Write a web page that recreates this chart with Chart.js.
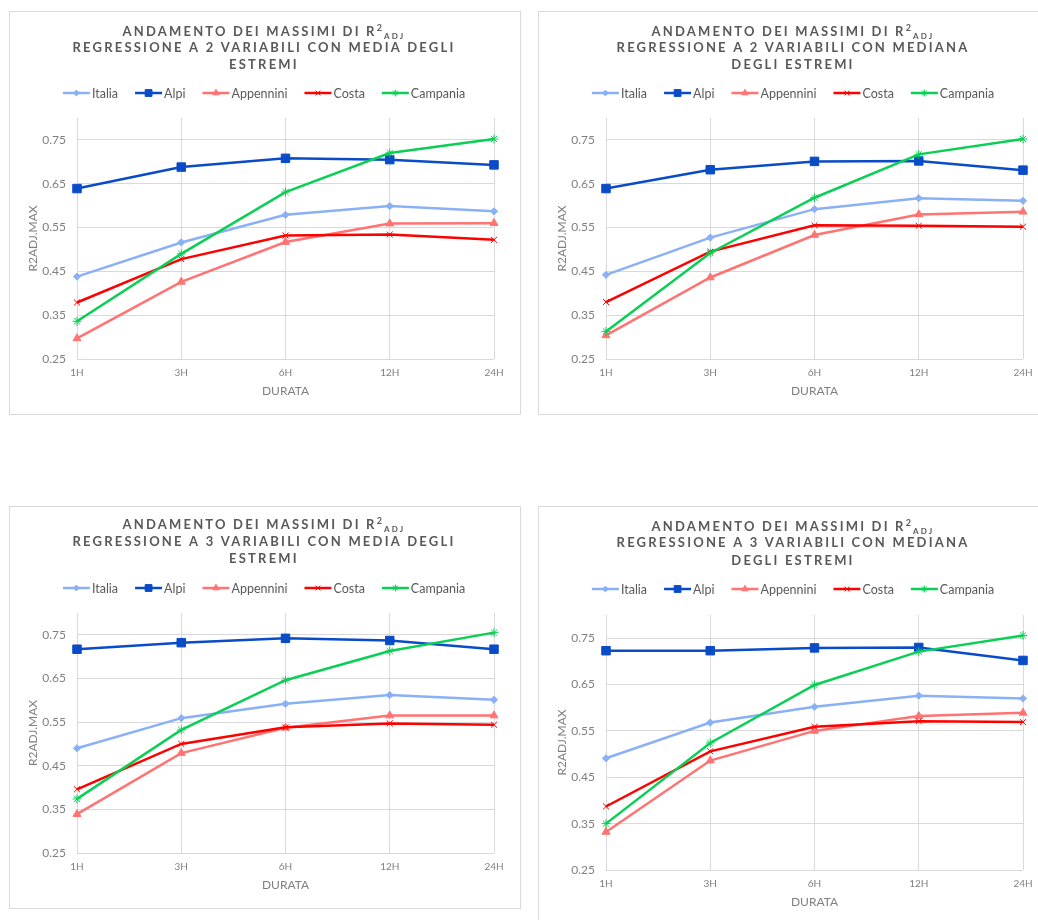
<!DOCTYPE html>
<html>
<head>
<meta charset="utf-8">
<script src="https://cdn.jsdelivr.net/npm/chart.js@4/dist/chart.umd.min.js"></script>
<style>
  html, body { margin: 0; padding: 0; background: #fff; width: 1038px; height: 920px; overflow: hidden; }
  .panel { position: absolute; border: 1px solid #d9d9d9; background: #fff; overflow: hidden; }
  .panel.destra { border-right: none; }
  .panel canvas { display: block; }
</style>
</head>
<body>
<div class="panel" style="left:9px;top:11px;width:510px;height:402px"><canvas id="c1" width="508" height="400"></canvas></div>
<div class="panel destra" style="left:538px;top:11px;width:510px;height:402px"><canvas id="c2" width="508" height="400"></canvas></div>
<div class="panel" style="left:9px;top:506px;width:510px;height:401px"><canvas id="c3" width="508" height="399"></canvas></div>
<div class="panel destra" style="left:538px;top:506px;width:510px;height:418px"><canvas id="c4" width="508" height="416"></canvas></div>
<script>
// Durations on the x axis and the labelled y ticks
const durate = ['1H', '3H', '6H', '12H', '24H'];
const yTicks = [0.25, 0.35, 0.45, 0.55, 0.65, 0.75];
const regioni = ['Italia', 'Alpi', 'Appennini', 'Costa', 'Campania'];

// Regressione a 2 variabili, media degli estremi
const italia2Media    = [0.438, 0.516, 0.579, 0.599, 0.587];
const alpi2Media      = [0.639, 0.688, 0.708, 0.705, 0.693];
const appennini2Media = [0.297, 0.426, 0.517, 0.559, 0.560];
const costa2Media     = [0.379, 0.478, 0.532, 0.534, 0.522];
const campania2Media  = [0.336, 0.490, 0.631, 0.720, 0.752];

// Regressione a 2 variabili, mediana degli estremi
const italia2Mediana    = [0.442, 0.527, 0.592, 0.617, 0.611];
const alpi2Mediana      = [0.639, 0.682, 0.701, 0.702, 0.681];
const appennini2Mediana = [0.304, 0.436, 0.533, 0.580, 0.586];
const costa2Mediana     = [0.380, 0.495, 0.555, 0.554, 0.552];
const campania2Mediana  = [0.313, 0.492, 0.618, 0.717, 0.752];

// Regressione a 3 variabili, media degli estremi
const italia3Media    = [0.490, 0.559, 0.592, 0.612, 0.601];
const alpi3Media      = [0.717, 0.732, 0.742, 0.737, 0.717];
const appennini3Media = [0.339, 0.479, 0.537, 0.565, 0.565];
const costa3Media     = [0.396, 0.500, 0.538, 0.547, 0.544];
const campania3Media  = [0.374, 0.532, 0.646, 0.713, 0.755];

// Regressione a 3 variabili, mediana degli estremi
const italia3Mediana    = [0.491, 0.568, 0.602, 0.626, 0.620];
const alpi3Mediana      = [0.723, 0.723, 0.729, 0.730, 0.702];
const appennini3Mediana = [0.332, 0.486, 0.550, 0.582, 0.589];
const costa3Mediana     = [0.387, 0.506, 0.559, 0.571, 0.569];
const campania3Mediana  = [0.350, 0.524, 0.649, 0.721, 0.756];

// Title lines for each panel (the first line carries R² with the ADJ subscript)
const titoloComune = 'ANDAMENTO DEI MASSIMI DI R';
const titoli1 = ['REGRESSIONE A 2 VARIABILI CON MEDIA DEGLI', 'ESTREMI'];
const titoli2 = ['REGRESSIONE A 2 VARIABILI CON MEDIANA', 'DEGLI ESTREMI'];
const titoli3 = ['REGRESSIONE A 3 VARIABILI CON MEDIA DEGLI', 'ESTREMI'];
const titoli4 = ['REGRESSIONE A 3 VARIABILI CON MEDIANA', 'DEGLI ESTREMI'];

const FONT = 'Lato, "Liberation Sans", sans-serif';
const TEXT_GREY = '#595959';
const TICK_GREY = '#808080';
const GRID = '#d9d9d9';

const stili = [
  { color: '#8AB0F5', point: 'rectRot',  r: 3.6 },
  { color: '#0A4BC8', point: 'rect',     r: 6   },
  { color: '#FF7373', point: 'triangle', r: 4.6 },
  { color: '#FF0000', point: 'crossRot', r: 4.2 },
  { color: '#0ACF55', point: 'star',     r: 4.4 }
];

// Draws the centred title block and the line+marker legend above the plot
const headerPlugin = {
  id: 'header',
  afterDraw(chart, args, opts) {
    const ctx = chart.ctx;
    const cx = chart.width / 2;
    ctx.save();
    ctx.fillStyle = TEXT_GREY;
    ctx.textBaseline = 'middle';
    ctx.textAlign = 'left';
    ctx.letterSpacing = '2.2px';

    // first line with superscript 2 and subscript ADJ
    const parts = [
      { t: titoloComune, f: 'bold 13px ' + FONT, dy: 0 },
      { t: '2', f: 'bold 9px ' + FONT, dy: -4 },
      { t: 'ADJ', f: 'bold 8px ' + FONT, dy: 4 }
    ];
    let total = 0;
    parts.forEach(p => { ctx.font = p.f; p.w = ctx.measureText(p.t).width; total += p.w; });
    let x = cx - total / 2;
    parts.forEach(p => { ctx.font = p.f; ctx.fillText(p.t, x, opts.y[0] + p.dy); x += p.w; });

    ctx.font = 'bold 13px ' + FONT;
    opts.lines.forEach((line, i) => {
      const w = ctx.measureText(line).width;
      ctx.fillText(line, cx - w / 2, opts.y[i + 1]);
    });

    // legend
    ctx.letterSpacing = '0px';
    ctx.font = '12.5px ' + FONT;
    const seg = 27, gapText = 2, gapItem = 17;
    const items = chart.data.datasets.map(ds => ({ ds, w: ctx.measureText(ds.label).width }));
    let lw = 0;
    items.forEach((it, i) => { lw += seg + gapText + it.w + (i < items.length - 1 ? gapItem : 0); });
    let lx = cx - lw / 2;
    const ly = opts.legendY;
    items.forEach(it => {
      const ds = it.ds;
      ctx.strokeStyle = ds.borderColor;
      ctx.fillStyle = ds.borderColor;
      ctx.lineWidth = 2.5;
      ctx.beginPath();
      ctx.moveTo(lx, ly);
      ctx.lineTo(lx + seg, ly);
      ctx.stroke();
      ctx.lineWidth = 1;
      Chart.helpers.drawPoint(ctx, { pointStyle: ds.pointStyle, radius: ds.pointRadius * 0.8, borderWidth: 1, rotation: 0 }, lx + seg / 2, ly);
      ctx.fillStyle = TEXT_GREY;
      ctx.fillText(ds.label, lx + seg + gapText, ly + 0.5);
      lx += seg + gapText + it.w + gapItem;
    });
    ctx.restore();
  }
};

function creaGrafico(id, serie, righe, padTop, titleY, legendY) {
  const datasets = regioni.map((nome, i) => ({
    label: nome,
    data: serie[i],
    borderColor: stili[i].color,
    backgroundColor: stili[i].color,
    pointBackgroundColor: stili[i].color,
    pointBorderColor: stili[i].color,
    pointStyle: stili[i].point,
    pointRadius: stili[i].r,
    pointBorderWidth: 1,
    borderWidth: 2.5,
    tension: 0,
    fill: false,
    clip: false,
    order: regioni.length - i
  }));
  return new Chart(document.getElementById(id), {
    type: 'line',
    data: { labels: durate, datasets },
    options: {
      responsive: false,
      animation: false,
      devicePixelRatio: 1,
      layout: { padding: { top: padTop, left: 10, right: 24, bottom: 0 } },
      plugins: {
        legend: { display: false },
        title: { display: false },
        tooltip: { enabled: false },
        header: { lines: righe, y: titleY, legendY: legendY }
      },
      scales: {
        x: {
          type: 'category',
          offset: false,
          border: { display: false },
          grid: { color: GRID, lineWidth: 1, drawTicks: false },
          ticks: { color: TICK_GREY, font: { family: FONT, size: 10 }, padding: 8, maxRotation: 0, autoSkip: false },
          title: { display: true, text: 'DURATA', color: TICK_GREY, font: { family: FONT, size: 12 }, padding: { top: 0, bottom: 14 } },
          afterFit(s) { s.height = 53; }
        },
        y: {
          min: 0.25,
          max: 0.8,
          afterBuildTicks(s) { s.ticks = yTicks.map(v => ({ value: v })); },
          border: { display: false },
          grid: { color: GRID, lineWidth: 1, drawTicks: false },
          ticks: { color: TICK_GREY, font: { family: FONT, size: 12 }, padding: 11, callback: v => Number(v).toFixed(2) },
          title: { display: true, text: 'R2ADJ.MAX', color: TICK_GREY, font: { family: FONT, size: 12 }, padding: { top: 6, bottom: 0 } },
          afterFit(s) { s.width = 57; }
        }
      }
    },
    plugins: [headerPlugin]
  });
}

creaGrafico('c1', [italia2Media, alpi2Media, appennini2Media, costa2Media, campania2Media], titoli1, 106, [20, 36, 53], 81);
creaGrafico('c2', [italia2Mediana, alpi2Mediana, appennini2Mediana, costa2Mediana, campania2Mediana], titoli2, 106, [20, 36, 53], 81);
creaGrafico('c3', [italia3Media, alpi3Media, appennini3Media, costa3Media, campania3Media], titoli3, 106, [18, 35, 52], 81);
creaGrafico('c4', [italia3Mediana, alpi3Mediana, appennini3Mediana, costa3Mediana, campania3Mediana], titoli4, 108, [20, 36, 54], 82);
</script>
</body>
</html>
